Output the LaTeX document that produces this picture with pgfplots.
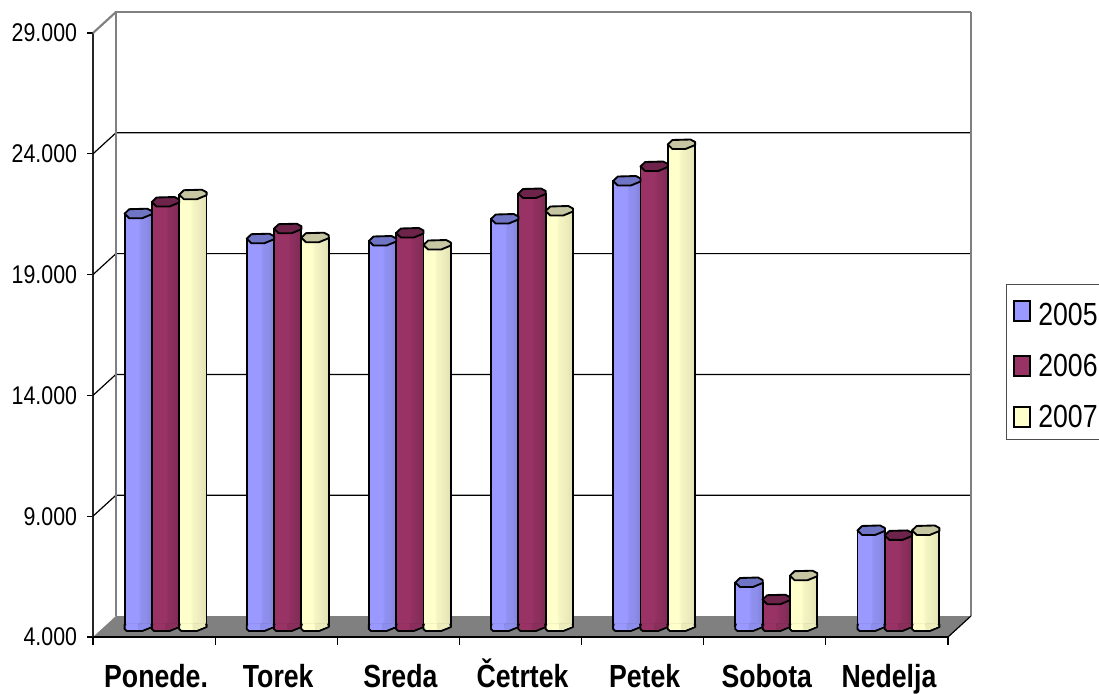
\documentclass[border=0pt]{standalone}
\usepackage{graphicx}
\usepackage{fontspec}
\setmainfont{Liberation Sans}
\usepackage{pgfplots}
\usepackage{pgfplotstable}
\pgfplotsset{compat=1.18}
\usetikzlibrary{plotmarks}

\definecolor{cA}{HTML}{9999FF}
\definecolor{cB}{HTML}{993366}
\definecolor{cC}{HTML}{FFFFCC}
\definecolor{sA}{HTML}{8D8DEB}
\definecolor{sB}{HTML}{8A2E5C}
\definecolor{sC}{HTML}{EBEBBC}
\definecolor{topA}{HTML}{6F74C4}
\definecolor{topB}{HTML}{6E244A}
\definecolor{topC}{HTML}{C6C6A2}
\definecolor{wall}{HTML}{808080}

% horizontal light bands across each cylinder body
\pgfdeclarehorizontalshading{shadeA}{100bp}{color(0bp)=(cA); color(25bp)=(cA); color(50bp)=(cA); color(54bp)=(cA!94!black); color(64bp)=(cA!92!black); color(70bp)=(cA!88!black); color(75bp)=(cA!86!black); color(100bp)=(cA!86!black)}
\pgfdeclarehorizontalshading{shadeB}{100bp}{color(0bp)=(cB); color(25bp)=(cB); color(50bp)=(cB); color(54bp)=(cB!94!black); color(64bp)=(cB!90!black); color(70bp)=(cB!85!black); color(75bp)=(cB!82!black); color(100bp)=(cB!82!black)}
\pgfdeclarehorizontalshading{shadeC}{100bp}{color(0bp)=(cC); color(25bp)=(cC); color(44bp)=(cC); color(50bp)=(cC!96!black); color(64bp)=(cC!92!black); color(70bp)=(cC!90!black); color(75bp)=(cC!88!black); color(100bp)=(cC!88!black)}

% caps and feet of the cylinders, in units of 0.75pt
\newcommand\defcyl[1]{%
  \pgfdeclareplotmark{cap#1}{%
    \path[x=0.75pt,y=0.75pt,fill=top#1,draw=black,line width=1.4pt,line join=round,solid]
      (-13.7,0)--(-9,4.5)--(9,5)--(13.7,2.5)--(13.7,-0.5)--(4,-4.5)--(-9,-4.5)--cycle;}%
  \pgfdeclareplotmark{foot#1}{%
    \path[x=0.75pt,y=0.75pt,fill=c#1,draw=black,line width=1.4pt,line join=round,solid]
      (-13.7,2)--(-13.7,-2.5)--(-11.5,-4.5)--(4,-4.5)--(13.7,-0.5)--(13.7,2)--cycle;}%
  \pgfdeclareplotmark{sole#1}{%
    \path[x=0.75pt,y=0.75pt,fill=c#1,draw=c#1,line width=0.3pt,solid]
      (-12,3.2)--(-12,-2)--(-10.5,-2.8)--(0,-2.8)--(0,3.2)--cycle;
    \path[x=0.75pt,y=0.75pt,fill=s#1,draw=s#1,line width=0.3pt,solid]
      (0,3.2)--(0,-2.8)--(3.5,-2.8)--(12,0.2)--(12,3.2)--cycle;}%
}
\defcyl{A}\defcyl{B}\defcyl{C}

\newcommand\stretched[1]{\scalebox{1}[1.2]{#1}}
\newcommand\daylab[1]{\stretched{\fontsize{20}{20}\selectfont\bfseries #1}}
\newcommand\vallab[1]{\stretched{\fontsize{16}{16}\selectfont #1}}
\newcommand\leglab[1]{\hspace{3.7pt}\stretched{\fontsize{20}{20}\selectfont #1}}

\pgfplotstableread{
a b c
21086 21570 21872
20051 20465 20093
19956 20287 19790
20866 21922 21198
22439 23039 23950
5821  5109  6103
7975  7770  7975
}\visits

% one series of cylinders: letter, column, position inside the group
\newcommand\cylinders[3]{%
  \addplot[only marks,mark=foot#1,forget plot] table[x expr=\coordindex+#3,y expr=4000] {\visits};
  \pgfplotsinvokeforeach{0,1,2,3,4,5,6}{%
    \pgfmathtruncatemacro\nextrow{##1+1}%
    \edef\barplot{\noexpand\addplot[ybar,bar width=20.5pt,bar shift=0pt,shading=shade#1,draw=black,
        line width=1.4pt,forget plot,
        skip coords between index={0}{##1},skip coords between index={\nextrow}{7}]
      table[x expr=\noexpand\coordindex+#3,y=#2] {\noexpand\visits};}%
    \barplot
  }%
  \addplot[only marks,mark=sole#1,forget plot] table[x expr=\coordindex+#3,y expr=4000] {\visits};
  \addplot[only marks,mark=cap#1,forget plot] table[x expr=\coordindex+#3,y=#2] {\visits};
}

\begin{document}
\begin{tikzpicture}
\path[use as bounding box] (0pt,0pt) rectangle (824.25pt,519.75pt);

% walls, floor and value scale
\begin{axis}[
  at={(69.75pt,42pt)},anchor=south west,
  scale only axis,width=641.25pt,height=453pt,
  xmin=0,xmax=7,ymin=4000,ymax=29000,
  clip=false,
  axis x line*=bottom,axis y line*=left,
  axis line style={line width=1pt,color=black!85},
  scaled y ticks=false,
  ytick={4000,9000,14000,19000,24000,29000},
  yticklabels={\vallab{4.000},\vallab{9.000},\vallab{14.000},\vallab{19.000},\vallab{24.000},\vallab{29.000}},
  xtick={0.5,1.5,2.5,3.5,4.5,5.5,6.5},
  xticklabels={\daylab{Ponede.},\daylab{Torek},\daylab{Sreda},\daylab{Četrtek},\daylab{Petek},\daylab{Sobota},\daylab{Nedelja}},
  minor xtick={0,1,2,3,4,5,6,7},
  tick align=outside,
  major tick length=4.5pt,
  minor tick length=6pt,
  major x tick style={draw=none},
  minor x tick style={black,line width=0.8pt},
  ytick style={black,line width=0.8pt},
  xticklabel style={inner sep=0pt,anchor=base,yshift=-33pt,xshift=1.5pt},
  yticklabel style={xshift=-7.3pt,inner sep=0pt},
]
\addplot[fill=wall,draw=none] coordinates {(0,4000)(7,4000)(7.188,4869)(0.188,4869)} --cycle;
\addplot[black,line width=0.9pt] coordinates {(0,9000)(0.188,9869)(7.188,9869)};
\addplot[black,line width=0.9pt] coordinates {(0,14000)(0.188,14869)(7.188,14869)};
\addplot[black,line width=0.9pt] coordinates {(0,19000)(0.188,19869)(7.188,19869)};
\addplot[black,line width=0.9pt] coordinates {(0,24000)(0.188,24869)(7.188,24869)};
\addplot[wall,line width=1.6pt] coordinates {(0.188,4869)(0.188,29869)(7.188,29869)};
\addplot[wall,line width=1.6pt] coordinates {(0,29000)(0.188,29869)};
\addplot[wall,line width=1pt] coordinates {(7.188,29869)(7.188,4869)};
\addplot[black,line width=0.9pt] coordinates {(7.188,4869)(7,4000)};
\addplot[black,line width=1.2pt] coordinates {(0,4000)(7,4000)};
\end{axis}

% cylinders, standing half a depth behind the front of the floor
\begin{axis}[
  at={(78.375pt,49.875pt)},anchor=south west,
  scale only axis,width=641.25pt,height=453pt,
  xmin=0,xmax=7,ymin=4000,ymax=29000,
  clip=false,hide axis,
  legend cell align=left,
  legend style={at={(1.0544,0.567)},anchor=north west,draw=black!70,line width=0.8pt,
    inner xsep=5pt,inner ysep=5.5pt,row sep=16pt},
]
\cylinders{A}{a}{0.2765}
\cylinders{B}{b}{0.5}
\cylinders{C}{c}{0.7235}
\addlegendimage{legend image code/.code={\path[draw=black,line width=1.1pt,fill=cA] (0pt,-7.5pt) rectangle (12pt,7.5pt);}}
\addlegendentry{\rule{0pt}{23pt}\leglab{2005}}
\addlegendimage{legend image code/.code={\path[draw=black,line width=1.1pt,fill=cB] (0pt,-7.5pt) rectangle (12pt,7.5pt);}}
\addlegendentry{\leglab{2006}}
\addlegendimage{legend image code/.code={\path[draw=black,line width=1.1pt,fill=cC] (0pt,-7.5pt) rectangle (12pt,7.5pt);}}
\addlegendentry{\leglab{2007}}
\end{axis}
\end{tikzpicture}
\end{document}
